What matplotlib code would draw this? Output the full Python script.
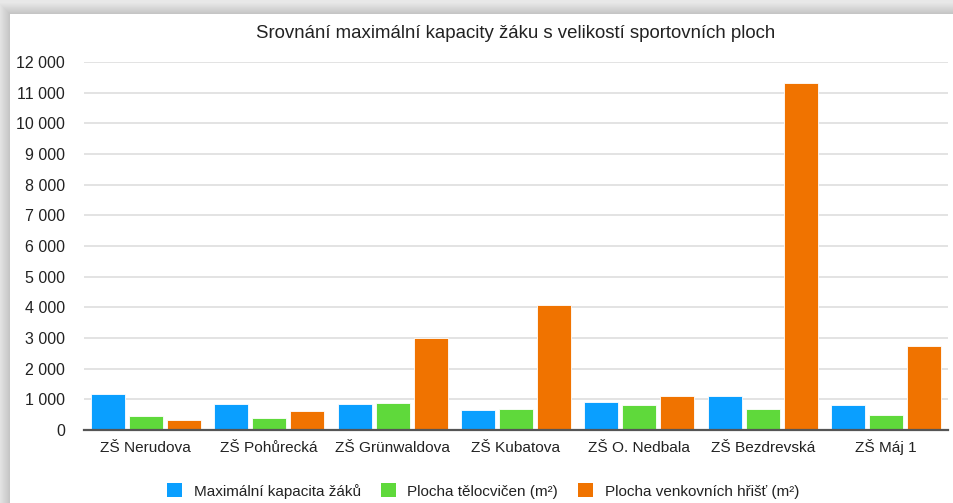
import numpy as np
import matplotlib.pyplot as plt
from matplotlib.patches import Rectangle, Patch

W, H = 954, 503

schools = ["ZŠ Nerudova", "ZŠ Pohůrecká", "ZŠ Grünwaldova", "ZŠ Kubatova",
           "ZŠ O. Nedbala", "ZŠ Bezdrevská", "ZŠ Máj 1"]
kapacita = [1165, 848, 848, 642, 914, 1120, 805]
telocvicny = [447, 401, 871, 685, 805, 696, 480]
hriste = [336, 610, 3012, 4068, 1109, 11311, 2741]

series_names = ["Maximální kapacita žáků", "Plocha tělocvičen (m²)",
                "Plocha venkovních hřišť (m²)"]
colors = ["#0a9fff", "#5fd93b", "#f07300"]
yticks = list(range(0, 13000, 1000))
ytick_labels = [f"{v:,}".replace(",", " ") for v in yticks]

plt.rcParams["font.family"] = ["Liberation Sans", "DejaVu Sans"]

fig = plt.figure(figsize=(W / 100, H / 100), dpi=100)

# grey shadow around the white card
bg = fig.add_axes([0, 0, 1, 1])
yy, xx = np.mgrid[0:H, 0:W]
card_x, card_y = 10, 14
dx = np.clip(card_x - xx, 0, None)
dy = np.clip(card_y - yy, 0, None)
d = np.maximum(dx, dy).astype(float)
shade = 0.76 + 0.15 * (d / 12.0)
shade = np.clip(shade, 0, 0.91)
bg.imshow(shade, cmap="gray", vmin=0, vmax=1, extent=(0, W, H, 0),
          aspect="auto", interpolation="bilinear")
bg.add_patch(Rectangle((card_x, card_y), W - card_x, H - card_y,
                       facecolor="white", edgecolor="none"))
bg.set_xlim(0, W)
bg.set_ylim(H, 0)
bg.axis("off")

ax = fig.add_axes([84 / W, (H - 430) / H, (948 - 84) / W, (430 - 62) / H])
ax.set_facecolor("none")

x = np.arange(len(schools))
step = 0.308
width = 0.276
for i, (vals, col) in enumerate(zip([kapacita, telocvicny, hriste], colors)):
    ax.bar(x + (i - 1) * step, vals, width=width, color=col,
           edgecolor="white", linewidth=0.6, zorder=3, label=series_names[i])

ax.set_xlim(-0.5, len(schools) - 0.5)
ax.set_ylim(0, 12000)
ax.set_yticks(yticks)
ax.set_yticklabels(ytick_labels, fontsize=11.5, color="#222222")
ax.set_xticks(x)
ax.set_xticklabels(schools, fontsize=11.1, color="#222222")
for lab in ax.get_xticklabels():
    lab.set_verticalalignment("baseline")
ax.tick_params(axis="both", length=0)
ax.tick_params(axis="y", pad=13.5)
ax.tick_params(axis="x", pad=15.5)
ax.grid(axis="y", color="#e1e1e1", linewidth=1.3, zorder=0)
for s in ["top", "right", "left"]:
    ax.spines[s].set_visible(False)
ax.spines["bottom"].set_color("#555555")
ax.spines["bottom"].set_linewidth(1.6)
ax.spines["bottom"].set_zorder(4)

fig.text(516 / W, 1 - 33 / H, "Srovnání maximální kapacity žáku s velikostí sportovních ploch",
         ha="center", va="center", fontsize=13.4, color="#222222")

handles = [Patch(facecolor=c, edgecolor="none") for c in colors]
fig.legend(handles, series_names, loc="center", bbox_to_anchor=(483 / W, 1 - 491 / H),
           ncol=3, frameon=False, fontsize=11.0, handlelength=1.0, handleheight=1.0,
           handletextpad=0.75, columnspacing=1.3, labelcolor="#222222")

fig.savefig("out.png", dpi=100)
